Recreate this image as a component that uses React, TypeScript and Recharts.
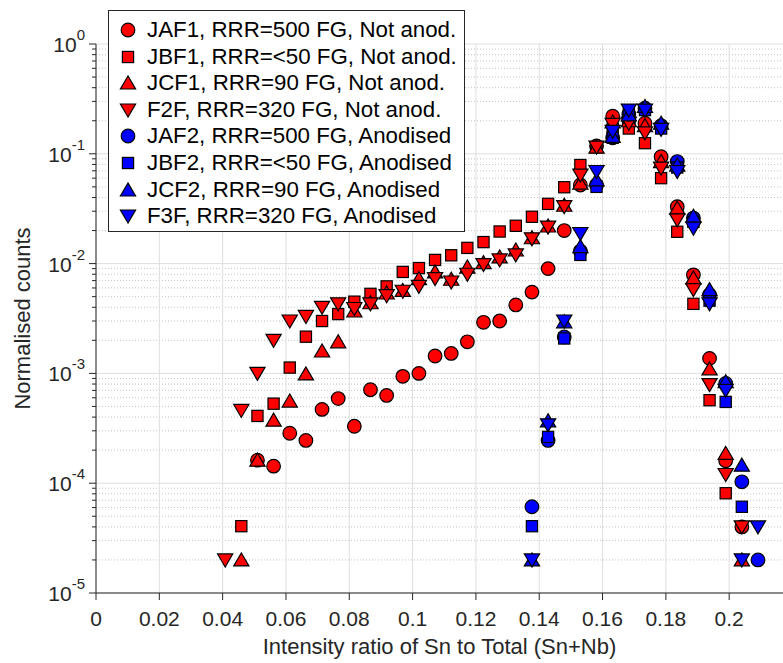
import React from 'react';
import {
  ScatterChart,
  Scatter,
  XAxis,
  YAxis,
  CartesianGrid,
} from 'recharts';

// bin centres of the intensity ratio histogram
const BINS = [
  0.0408, 0.0459, 0.051, 0.0561, 0.0612, 0.0663, 0.0714, 0.0765, 0.0816, 0.0867,
  0.0918, 0.0969, 0.102, 0.1071, 0.1122, 0.1173, 0.1224, 0.1275, 0.1326, 0.1377,
  0.1428, 0.1479, 0.153, 0.1581, 0.1632, 0.1683, 0.1734, 0.1785, 0.1836, 0.1887,
  0.1938, 0.1989, 0.204, 0.2091,
];

// normalised counts per bin (null = no count)
const JAF1 = [
  null, null, 1.62e-4, 1.43e-4, 2.85e-4, 2.45e-4, 4.7e-4, 5.9e-4, 3.3e-4, 7.1e-4,
  6.3e-4, 9.4e-4, 1.0e-3, 1.44e-3, 1.52e-3, 1.94e-3, 2.92e-3, 3.0e-3, 4.2e-3, 5.5e-3,
  9.0e-3, 2.0e-2, 5.2e-2, 0.118, 0.22, 0.2, 0.19, 0.094, 0.033, 7.9e-3,
  1.37e-3, 1.6e-4, 4.0e-5, null,
];
const JBF1 = [
  null, 4.06e-5, 4.1e-4, 5.3e-4, 1.13e-3, 2.16e-3, 3.0e-3, 3.47e-3, 4.5e-3, 5.3e-3,
  6.2e-3, 8.4e-3, 9.1e-3, 1.08e-2, 1.19e-2, 1.39e-2, 1.57e-2, 1.96e-2, 2.21e-2, 2.67e-2,
  3.5e-2, 4.96e-2, 7.9e-2, 0.115, 0.17, 0.17, 0.125, 0.06, 0.0195, 4.3e-3,
  5.7e-4, 8.1e-5, null, null,
];
const JCF1 = [
  null, 2.0e-5, 1.62e-4, 3.75e-4, 5.6e-4, 9.9e-4, 1.6e-3, 1.94e-3, 3.7e-3, 4.4e-3,
  5.4e-3, 5.7e-3, 7.3e-3, 8.4e-3, 7.2e-3, 9.3e-3, 1.02e-2, 1.15e-2, 1.33e-2, 1.72e-2,
  2.2e-2, 3.4e-2, 5.4e-2, 0.115, 0.195, 0.2, 0.18, 0.085, 0.032, 7.4e-3,
  1.1e-3, 1.87e-4, 2.0e-5, null,
];
const F2F = [
  2.0e-5, 4.6e-4, 1.0e-3, 2.0e-3, 3.0e-3, 3.3e-3, 4.0e-3, 4.3e-3, 3.9e-3, 4.3e-3,
  5.1e-3, 5.6e-3, 6.2e-3, 7.3e-3, 6.8e-3, 8.0e-3, 9.8e-3, 1.08e-2, 1.2e-2, 1.68e-2,
  2.15e-2, 3.3e-2, 6.4e-2, 0.115, 0.185, 0.19, 0.155, 0.074, 0.025, 5.8e-3,
  7.9e-4, 1.2e-4, 4.0e-5, null,
];
const JAF2 = [
  null, null, null, null, null, null, null, null, null, null,
  null, null, null, null, null, null, null, null, null, 6.1e-5,
  2.45e-4, 2.15e-3, 1.3e-2, 0.052, 0.14, 0.23, 0.26, 0.18, 0.085, 0.026,
  5.2e-3, 8.1e-4, 1.03e-4, 2.0e-5,
];
const JBF2 = [
  null, null, null, null, null, null, null, null, null, null,
  null, null, null, null, null, null, null, null, null, 4.06e-5,
  2.64e-4, 2.08e-3, 1.2e-2, 0.05, 0.14, 0.23, 0.25, 0.17, 0.075, 0.024,
  4.6e-3, 5.5e-4, 6.1e-5, null,
];
const JCF2 = [
  null, null, null, null, null, null, null, null, null, null,
  null, null, null, null, null, null, null, null, null, 2.0e-5,
  3.7e-4, 2.95e-3, 1.43e-2, 0.058, 0.144, 0.226, 0.27, 0.19, 0.079, 0.027,
  5.8e-3, 8.4e-4, 1.46e-4, null,
];
const F3F = [
  null, null, null, null, null, null, null, null, null, null,
  null, null, null, null, null, null, null, null, null, 2.0e-5,
  3.4e-4, 3.0e-3, 1.88e-2, 0.069, 0.16, 0.25, 0.25, 0.167, 0.069, 0.021,
  4.3e-3, 7.0e-4, 2.0e-5, 4.0e-5,
];

const X_TICKS = [0, 0.02, 0.04, 0.06, 0.08, 0.1, 0.12, 0.14, 0.16, 0.18, 0.2];
const Y_DECADES = [1e-5, 1e-4, 1e-3, 1e-2, 1e-1, 1];
const Y_MINORS = Y_DECADES.slice(0, -1).flatMap((d) =>
  [2, 3, 4, 5, 6, 7, 8, 9].map((m) => +(m * d).toPrecision(3)),
);

type Kind = 'circle' | 'square' | 'up' | 'down';

const SERIES: { name: string; values: (number | null)[]; kind: Kind; color: string }[] = [
  { name: 'JAF1, RRR=500 FG, Not anod.', values: JAF1, kind: 'circle', color: '#ff0000' },
  { name: 'JBF1, RRR=<50 FG, Not anod.', values: JBF1, kind: 'square', color: '#ff0000' },
  { name: 'JCF1, RRR=90 FG, Not anod.', values: JCF1, kind: 'up', color: '#ff0000' },
  { name: 'F2F, RRR=320 FG, Not anod.', values: F2F, kind: 'down', color: '#ff0000' },
  { name: 'JAF2, RRR=500 FG, Anodised', values: JAF2, kind: 'circle', color: '#0000ff' },
  { name: 'JBF2, RRR=<50 FG, Anodised', values: JBF2, kind: 'square', color: '#0000ff' },
  { name: 'JCF2, RRR=90 FG, Anodised', values: JCF2, kind: 'up', color: '#0000ff' },
  { name: 'F3F, RRR=320 FG, Anodised', values: F3F, kind: 'down', color: '#0000ff' },
];

const W = 783;
const H = 663;
const PLOT_LEFT = 96;
const AXIS = '#262626';
const FONT = "'Liberation Sans', Arial, Helvetica, sans-serif";

const Marker = ({ kind, cx, cy, fill }: { kind: Kind; cx: number; cy: number; fill: string }) => {
  const s = { fill, stroke: '#000', strokeWidth: 1.2 };
  if (kind === 'circle') return <circle cx={cx} cy={cy} r={6.8} {...s} />;
  if (kind === 'square') return <rect x={cx - 5.6} y={cy - 5.6} width={11.2} height={11.2} {...s} />;
  if (kind === 'up')
    return <polygon points={`${cx},${cy - 7} ${cx - 7.6},${cy + 6} ${cx + 7.6},${cy + 6}`} {...s} />;
  return <polygon points={`${cx},${cy + 7} ${cx - 7.6},${cy - 6} ${cx + 7.6},${cy - 6}`} {...s} />;
};

const YTick = (props: any) => {
  const { y, payload } = props;
  const v = payload.value as number;
  const exp = Math.round(Math.log10(v));
  const major = Math.abs(v / Math.pow(10, exp) - 1) < 1e-6;
  return (
    <g>
      <line x1={PLOT_LEFT} x2={PLOT_LEFT - (major ? 7 : 4)} y1={y} y2={y} stroke={AXIS} />
      {major && (
        <text x={PLOT_LEFT - 11} y={y + 8} textAnchor="end" fill={AXIS} fontFamily={FONT} fontSize={21}>
          <tspan>10</tspan>
          <tspan fontSize={15} dy={-12}>{exp}</tspan>
        </text>
      )}
    </g>
  );
};

export default function App() {
  return (
    <div style={{ position: 'absolute', left: 0, top: 0, width: W, height: H, background: '#fff' }}>
      <ScatterChart width={W} height={H} margin={{ top: 44, right: 0, bottom: 0, left: 0 }}>
        <CartesianGrid
          horizontalValues={Y_MINORS}
          vertical={false}
          stroke="#c4c4c4"
          strokeDasharray="1 2"
        />
        <CartesianGrid horizontalValues={Y_DECADES} verticalValues={X_TICKS} stroke="#dedede" />
        <XAxis
          type="number"
          dataKey="x"
          domain={[0, 0.217]}
          ticks={X_TICKS}
          allowDataOverflow
          height={70}
          tickSize={7}
          tickMargin={11}
          stroke={AXIS}
          tick={{ fill: AXIS, fontSize: 21, fontFamily: FONT }}
          label={{
            value: 'Intensity ratio of Sn to Total (Sn+Nb)',
            position: 'insideBottom',
            offset: 9,
            style: { fill: AXIS, fontSize: 22, fontFamily: FONT },
          }}
        />
        <YAxis
          type="number"
          dataKey="y"
          scale="log"
          domain={[1e-5, 1]}
          ticks={[...Y_DECADES, ...Y_MINORS]}
          allowDataOverflow
          width={PLOT_LEFT}
          stroke={AXIS}
          tickLine={false}
          tick={<YTick />}
          interval={0}
          label={{
            value: 'Normalised counts',
            angle: -90,
            position: 'insideLeft',
            offset: 22,
            style: { fill: AXIS, fontSize: 22, fontFamily: FONT, textAnchor: 'middle' },
          }}
        />
        {SERIES.map((s) => (
          <Scatter
            key={s.name}
            name={s.name}
            data={BINS.map((x, i) => ({ x, y: s.values[i] })).filter((d) => d.y != null)}
            isAnimationActive={false}
            shape={(p: any) => <Marker kind={s.kind} cx={p.cx} cy={p.cy} fill={s.color} />}
          />
        ))}
      </ScatterChart>
      <div
        style={{
          position: 'absolute',
          left: 108,
          top: 10,
          width: 357,
          height: 222,
          boxSizing: 'border-box',
          border: `1.5px solid ${AXIS}`,
          background: '#fff',
          fontFamily: FONT,
          fontSize: 22.3,
          color: '#000',
        }}
      >
        {SERIES.map((s, i) => (
          <div
            key={s.name}
            style={{ position: 'absolute', left: 0, top: 6 + i * 26.6, height: 26, display: 'flex', alignItems: 'center', whiteSpace: 'nowrap' }}
          >
            <svg width={38} height={26} style={{ display: 'block' }}>
              <Marker kind={s.kind} cx={19} cy={13} fill={s.color} />
            </svg>
            <span style={{ marginLeft: 0 }}>{s.name}</span>
          </div>
        ))}
      </div>
    </div>
  );
}
